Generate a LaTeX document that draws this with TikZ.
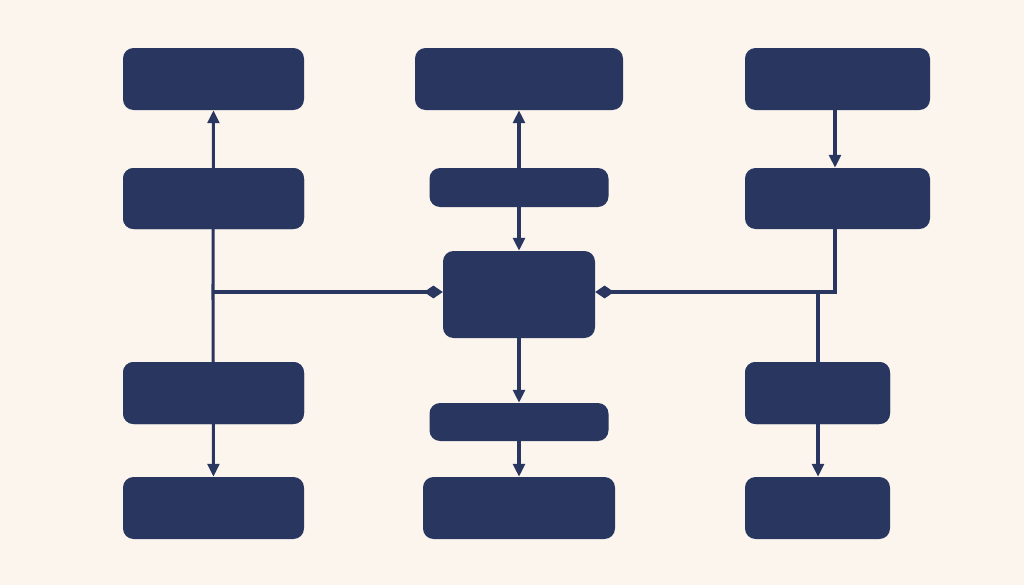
\documentclass[tikz,border=0pt]{standalone}
\usetikzlibrary{arrows.meta}
\definecolor{bg}{HTML}{FBF5EE}
\definecolor{navy}{HTML}{283660}
\begin{document}
\begin{tikzpicture}[x=0.03cm,y=-0.03cm,
  box/.style={fill=navy,draw=none,rounded corners=9pt,inner sep=0pt},
  ln/.style={draw=navy,line width=2.6pt},
  tip/.style={-{Triangle[length=11pt,width=10pt]}},
  dtip/.style={-{Diamond[length=16pt,width=11pt]}}]
\fill[bg] (0,0) rectangle (1024,585);
\useasboundingbox (0,0) rectangle (1024,585);
\newcommand{\bx}[5]{\node[box,minimum width=#4*0.03cm,minimum height=#5*0.03cm] (#1) at (#2,#3) {};}
\bx{L1}{213.5}{79}{181}{62}
\bx{L2}{213.5}{198.5}{181}{61}
\bx{L3}{213.5}{393}{181}{62}
\bx{L4}{213.5}{508}{181}{62}
\bx{M1}{519}{79}{208}{62}
\bx{M2}{519}{187.5}{179}{39}
\bx{M3}{519}{294.5}{152}{87}
\bx{M4}{519}{422}{179}{38}
\bx{M5}{519}{508}{192}{62}
\bx{R1}{837.5}{79}{185}{62}
\bx{R2}{837.5}{198.5}{185}{61}
\bx{R3}{817.5}{393}{145}{62}
\bx{R4}{817.5}{508}{145}{62}
\coordinate (jl) at (213,292);
\coordinate (jr) at (835,292);
\coordinate (jr2) at (818,292);
\draw[ln,tip] (jl) -- (L1.south);
\draw[ln,tip] (jl) -- (L4.north);
\draw[ln,dtip] (jl) -- (M3.west |- jl);
\draw[ln,tip] (M2.north) -- (M1.south);
\draw[ln,tip] (M2.south) -- (M3.north);
\draw[ln,tip] (M3.south) -- (M4.north);
\draw[ln,tip] (M4.south) -- (M5.north);
\draw[ln,tip] (R1.south -| jr) -- (R2.north -| jr);
\draw[ln,dtip] (R2.south -| jr) -- (jr) -- (M3.east |- jr);
\draw[ln,tip] (jr2) -- (R4.north -| jr2);
\fill[navy,rounded corners=9pt] (123,168) rectangle (304,229);
\fill[navy,rounded corners=9pt] (123,362) rectangle (304,424);
\fill[navy,rounded corners=9pt] (745,362) rectangle (890,424);
\end{tikzpicture}
\end{document}
